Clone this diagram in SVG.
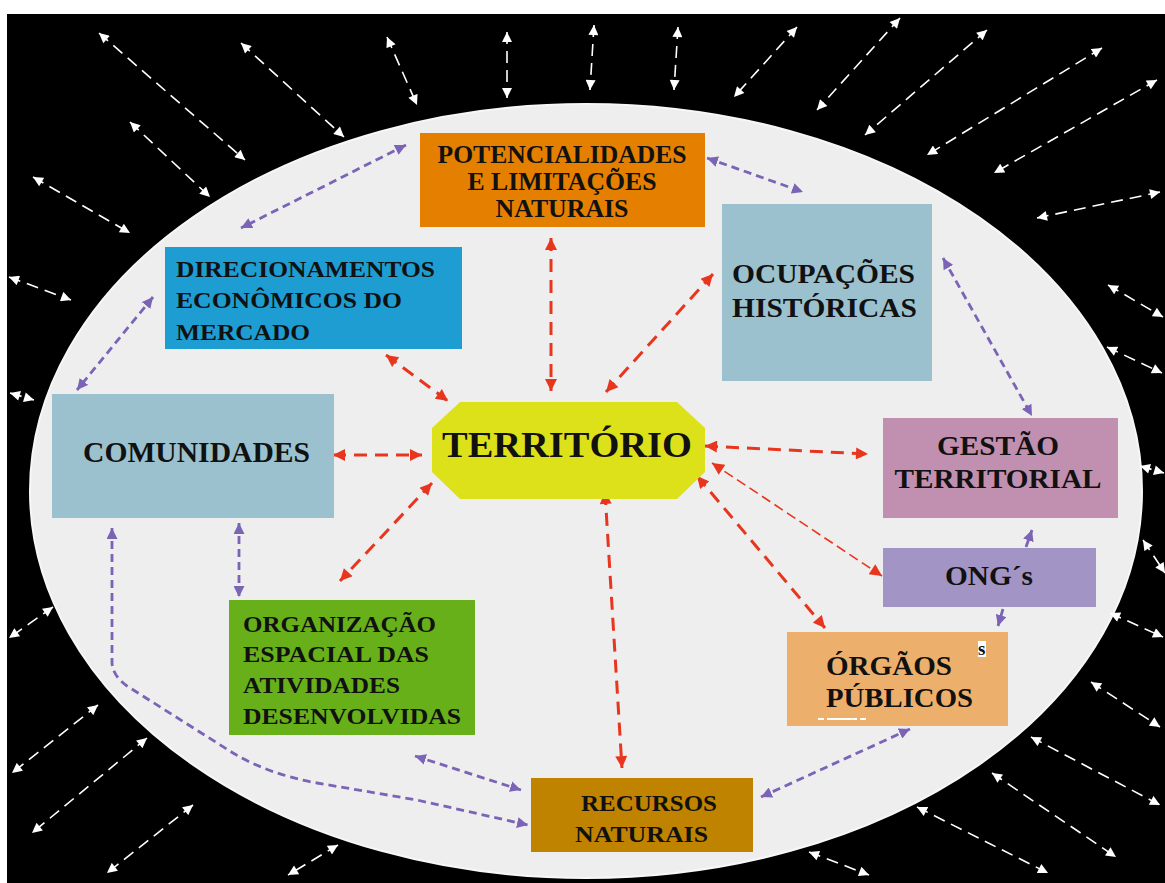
<svg xmlns="http://www.w3.org/2000/svg" width="1165" height="883" viewBox="0 0 1165 883">
<style>
.t{font-family:"Liberation Serif","Times New Roman",serif;font-weight:bold;fill:#111;}
.red{fill:none;stroke:#e8351e;stroke-width:3;stroke-dasharray:13 8;}
.redthin{fill:none;stroke:#e8351e;stroke-width:1.6;stroke-dasharray:10 5;}
.pur{fill:none;stroke:#7b64b6;stroke-width:2.8;stroke-dasharray:8 5;}
.wh{fill:none;stroke:#ffffff;stroke-width:1.6;stroke-dasharray:12 7;}
</style>
<defs>
<marker id="mr" viewBox="0 0 10 10" refX="10" refY="5" markerUnits="userSpaceOnUse" markerWidth="14" markerHeight="12" orient="auto-start-reverse"><path d="M0,0 L10,5 L0,10 z" fill="#e8351e"/></marker>
<marker id="mp" viewBox="0 0 10 10" refX="10" refY="5" markerUnits="userSpaceOnUse" markerWidth="11" markerHeight="11" orient="auto-start-reverse"><path d="M0,0 L10,5 L0,10 z" fill="#7b64b6"/></marker>
<marker id="mw" viewBox="0 0 10 10" refX="10" refY="5" markerUnits="userSpaceOnUse" markerWidth="11" markerHeight="10" orient="auto-start-reverse"><path d="M0,0 L10,5 L0,10 z" fill="#ffffff"/></marker>
</defs>
<rect x="0" y="0" width="1165" height="883" fill="#ffffff"/>
<rect x="7" y="14" width="1158" height="869" fill="#000000"/>
<ellipse cx="586" cy="491" rx="556" ry="387" fill="#eeeeee" stroke="#f7f7f7" stroke-width="2"/>

<g id="connectors">
<g id="white-arrows" marker-start="url(#mw)" marker-end="url(#mw)">
<line class="wh" x1="99" y1="33" x2="245" y2="160" marker-start="url(#mw)" marker-end="url(#mw)"/>
<line class="wh" x1="241" y1="43" x2="344" y2="137" marker-start="url(#mw)" marker-end="url(#mw)"/>
<line class="wh" x1="387" y1="37" x2="417" y2="105" marker-start="url(#mw)" marker-end="url(#mw)"/>
<line class="wh" x1="507" y1="32" x2="507" y2="98" marker-start="url(#mw)" marker-end="url(#mw)"/>
<line class="wh" x1="594" y1="25" x2="590" y2="90" marker-start="url(#mw)" marker-end="url(#mw)"/>
<line class="wh" x1="678" y1="27" x2="674" y2="90" marker-start="url(#mw)" marker-end="url(#mw)"/>
<line class="wh" x1="797" y1="27" x2="734" y2="97" marker-start="url(#mw)" marker-end="url(#mw)"/>
<line class="wh" x1="900" y1="18" x2="817" y2="110" marker-start="url(#mw)" marker-end="url(#mw)"/>
<line class="wh" x1="987" y1="30" x2="865" y2="135" marker-start="url(#mw)" marker-end="url(#mw)"/>
<line class="wh" x1="1102" y1="48" x2="927" y2="155" marker-start="url(#mw)" marker-end="url(#mw)"/>
<line class="wh" x1="1157" y1="80" x2="994" y2="173" marker-start="url(#mw)" marker-end="url(#mw)"/>
<line class="wh" x1="1160" y1="192" x2="1037" y2="218" marker-start="url(#mw)" marker-end="url(#mw)"/>
<line class="wh" x1="130" y1="122" x2="210" y2="197" marker-start="url(#mw)" marker-end="url(#mw)"/>
<line class="wh" x1="33" y1="177" x2="130" y2="233" marker-start="url(#mw)" marker-end="url(#mw)"/>
<line class="wh" x1="9" y1="277" x2="71" y2="300" marker-start="url(#mw)" marker-end="url(#mw)"/>
<line class="wh" x1="10" y1="393" x2="34" y2="400" marker-start="url(#mw)" marker-end="url(#mw)"/>
<line class="wh" x1="1108" y1="285" x2="1163" y2="317" marker-start="url(#mw)" marker-end="url(#mw)"/>
<line class="wh" x1="1107" y1="347" x2="1162" y2="373" marker-start="url(#mw)" marker-end="url(#mw)"/>
<line class="wh" x1="1140" y1="466" x2="1164" y2="473" marker-start="url(#mw)" marker-end="url(#mw)"/>
<line class="wh" x1="1143" y1="540" x2="1165" y2="573" marker-start="url(#mw)" marker-end="url(#mw)"/>
<line class="wh" x1="1110" y1="613" x2="1163" y2="637" marker-start="url(#mw)" marker-end="url(#mw)"/>
<line class="wh" x1="1091" y1="682" x2="1160" y2="727" marker-start="url(#mw)" marker-end="url(#mw)"/>
<line class="wh" x1="1031" y1="737" x2="1160" y2="805" marker-start="url(#mw)" marker-end="url(#mw)"/>
<line class="wh" x1="992" y1="773" x2="1116" y2="857" marker-start="url(#mw)" marker-end="url(#mw)"/>
<line class="wh" x1="917" y1="807" x2="1048" y2="873" marker-start="url(#mw)" marker-end="url(#mw)"/>
<line class="wh" x1="809" y1="852" x2="869" y2="875" marker-start="url(#mw)" marker-end="url(#mw)"/>
<line class="wh" x1="53" y1="607" x2="9" y2="638" marker-start="url(#mw)" marker-end="url(#mw)"/>
<line class="wh" x1="98" y1="705" x2="12" y2="773" marker-start="url(#mw)" marker-end="url(#mw)"/>
<line class="wh" x1="147" y1="738" x2="32" y2="833" marker-start="url(#mw)" marker-end="url(#mw)"/>
<line class="wh" x1="193" y1="805" x2="107" y2="873" marker-start="url(#mw)" marker-end="url(#mw)"/>
<line class="wh" x1="338" y1="845" x2="288" y2="875" marker-start="url(#mw)" marker-end="url(#mw)"/>
</g>
<g id="red-arrows">
<line class="red" x1="551" y1="238" x2="551" y2="391" marker-start="url(#mr)" marker-end="url(#mr)"/>
<line class="red" x1="713" y1="274" x2="606" y2="392" marker-start="url(#mr)" marker-end="url(#mr)"/>
<line class="red" x1="386" y1="355" x2="448" y2="401" marker-start="url(#mr)" marker-end="url(#mr)"/>
<line class="red" x1="333" y1="455" x2="422" y2="455" marker-start="url(#mr)" marker-end="url(#mr)"/>
<line class="red" x1="432" y1="483" x2="340" y2="581" marker-start="url(#mr)" marker-end="url(#mr)"/>
<line class="red" x1="605" y1="492" x2="622" y2="768" marker-start="url(#mr)" marker-end="url(#mr)"/>
<line class="red" x1="705" y1="446" x2="868" y2="454" marker-start="url(#mr)" marker-end="url(#mr)"/>
<line class="redthin" x1="712" y1="463" x2="882" y2="576" marker-start="url(#mr)" marker-end="url(#mr)"/>
<line class="red" x1="697" y1="476" x2="825" y2="628" marker-start="url(#mr)" marker-end="url(#mr)"/>
</g>
<g id="purple-arrows">
<line class="pur" x1="406" y1="145" x2="241" y2="228" marker-start="url(#mp)" marker-end="url(#mp)"/>
<line class="pur" x1="707" y1="158" x2="803" y2="192" marker-start="url(#mp)" marker-end="url(#mp)"/>
<line class="pur" x1="943" y1="258" x2="1032" y2="416" marker-start="url(#mp)" marker-end="url(#mp)"/>
<line class="pur" x1="153" y1="297" x2="77" y2="390" marker-start="url(#mp)" marker-end="url(#mp)"/>
<line class="pur" x1="239" y1="523" x2="239" y2="597" marker-start="url(#mp)" marker-end="url(#mp)"/>
<path class="pur" d="M112,528 L112,663 Q113,676 127,686 L233,753 Q268,774 317,783 L417,800 L528,825" marker-start="url(#mp)" marker-end="url(#mp)"/>
<line class="pur" x1="415" y1="756" x2="521" y2="790" marker-start="url(#mp)" marker-end="url(#mp)"/>
<line class="pur" x1="761" y1="797" x2="910" y2="729" marker-start="url(#mp)" marker-end="url(#mp)"/>
<line class="pur" x1="1026" y1="547" x2="1032" y2="530" marker-end="url(#mp)"/>
<line class="pur" x1="1003" y1="609" x2="998" y2="626" marker-end="url(#mp)"/>
</g>
</g>

<g id="potencialidades">
<rect x="420" y="133" width="285" height="94" fill="#e47f00"/>
<text class="t" font-size="25" text-anchor="middle" x="562" y="163" textLength="249" lengthAdjust="spacingAndGlyphs">POTENCIALIDADES</text>
<text class="t" font-size="25" text-anchor="middle" x="562" y="190" textLength="189" lengthAdjust="spacingAndGlyphs">E LIMITAÇÕES</text>
<text class="t" font-size="25" text-anchor="middle" x="562" y="217" textLength="133" lengthAdjust="spacingAndGlyphs">NATURAIS</text>
</g>
<g id="direcionamentos">
<rect x="165" y="247" width="297" height="102" fill="#1e9dd3"/>
<text class="t" font-size="24" x="176" y="277" textLength="259" lengthAdjust="spacingAndGlyphs">DIRECIONAMENTOS</text>
<text class="t" font-size="24" x="176" y="308" textLength="226" lengthAdjust="spacingAndGlyphs">ECONÔMICOS DO</text>
<text class="t" font-size="24" x="176" y="340" textLength="134" lengthAdjust="spacingAndGlyphs">MERCADO</text>
</g>
<g id="ocupacoes">
<rect x="722" y="204" width="210" height="177" fill="#9bc1cf"/>
<text class="t" font-size="28" x="732" y="283" textLength="183" lengthAdjust="spacingAndGlyphs">OCUPAÇÕES</text>
<text class="t" font-size="28" x="732" y="317" textLength="185" lengthAdjust="spacingAndGlyphs">HISTÓRICAS</text>
</g>
<g id="comunidades">
<rect x="52" y="394" width="282" height="124" fill="#9bc1cf"/>
<text class="t" font-size="29" x="83" y="462" textLength="227" lengthAdjust="spacingAndGlyphs">COMUNIDADES</text>
</g>
<g id="territorio">
<polygon points="460,402 677,402 705,428 705,472 677,499 460,499 432,472 432,428" fill="#dde11a"/>
<text class="t" font-size="36" x="442" y="457" textLength="250" lengthAdjust="spacingAndGlyphs">TERRITÓRIO</text>
</g>
<g id="gestao">
<rect x="883" y="418" width="235" height="100" fill="#c190b0"/>
<text class="t" font-size="28" text-anchor="middle" x="998" y="455" textLength="122" lengthAdjust="spacingAndGlyphs">GESTÃO</text>
<text class="t" font-size="28" text-anchor="middle" x="998" y="488" textLength="207" lengthAdjust="spacingAndGlyphs">TERRITORIAL</text>
</g>
<g id="ongs">
<rect x="883" y="548" width="213" height="59" fill="#a294c4"/>
<text class="t" font-size="27" x="945" y="585" textLength="88" lengthAdjust="spacingAndGlyphs">ONG´s</text>
</g>
<g id="orgaos">
<rect x="787" y="632" width="221" height="94" fill="#ecb06c"/>
<text class="t" font-size="28" x="826" y="675" textLength="126" lengthAdjust="spacingAndGlyphs">ÓRGÃOS</text>
<text class="t" font-size="28" x="826" y="707" textLength="147" lengthAdjust="spacingAndGlyphs">PÚBLICOS</text>
<rect x="978" y="641" width="8" height="16" fill="#ffffff"/>
<text class="t" font-size="19" x="978" y="655">s</text>
<line x1="818" y1="719" x2="868" y2="719" stroke="#ffffff" stroke-width="2" stroke-dasharray="6 3 30 3"/>
</g>
<g id="organizacao">
<rect x="229" y="600" width="246" height="135" fill="#67b01a"/>
<text class="t" font-size="23" x="243" y="632" textLength="193" lengthAdjust="spacingAndGlyphs">ORGANIZAÇÃO</text>
<text class="t" font-size="23" x="243" y="662" textLength="186" lengthAdjust="spacingAndGlyphs">ESPACIAL DAS</text>
<text class="t" font-size="23" x="243" y="693" textLength="157" lengthAdjust="spacingAndGlyphs">ATIVIDADES</text>
<text class="t" font-size="23" x="243" y="724" textLength="218" lengthAdjust="spacingAndGlyphs">DESENVOLVIDAS</text>
</g>
<g id="recursos">
<rect x="531" y="778" width="222" height="74" fill="#bf8300"/>
<text class="t" font-size="24" x="581" y="811" textLength="136" lengthAdjust="spacingAndGlyphs">RECURSOS</text>
<text class="t" font-size="24" x="575" y="842" textLength="133" lengthAdjust="spacingAndGlyphs">NATURAIS</text>
</g>
</svg>
